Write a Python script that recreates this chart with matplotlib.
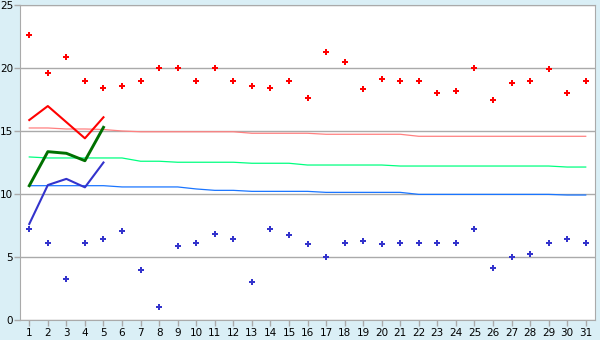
import numpy as np
import matplotlib
matplotlib.use("Agg")
import matplotlib.pyplot as plt

# categories 1..31
cats = list(range(1, 32))

# scatter values
red_pts = [22.6, 19.6, 20.85, 19.0, 18.4, 18.55, 19.0, 20.0, 20.0, 19.0,
           20.0, 19.0, 18.6, 18.4, 19.0, 17.6, 21.25, 20.45, 18.3, 19.1,
           19.0, 19.0, 18.0, 18.2, 20.0, 17.5, 18.8, 19.0, 19.9, 18.0, 19.0]
blue_pts = [7.2, 6.1, 3.25, 6.1, 6.4, 7.05, 3.95, 1.0, 5.85, 6.1,
            6.8, 6.4, 3.0, 7.2, 6.72, 6.0, 5.0, 6.1, 6.25, 6.0,
            6.1, 6.1, 6.1, 6.1, 7.2, 4.1, 5.0, 5.2, 6.1, 6.4, 6.1]

# short lines over the first five categories
red_line = [15.87, 16.98, 15.7, 14.42, 16.09]
green_line = [10.66, 13.36, 13.23, 12.64, 15.29]
blue_line = [7.62, 10.71, 11.2, 10.53, 12.5]

# slowly drifting level lines
upper = [15.24, 15.24, 15.16, 15.16, 15.12, 15.0, 14.94, 14.94, 14.94, 14.94,
         14.94, 14.94, 14.82, 14.82, 14.82, 14.82, 14.74, 14.74, 14.74, 14.74,
         14.74, 14.58, 14.58, 14.58, 14.58, 14.58, 14.58, 14.58, 14.58, 14.58, 14.58]
middle = [12.94, 12.86, 12.86, 12.86, 12.86, 12.86, 12.6, 12.6, 12.52, 12.52,
          12.52, 12.52, 12.44, 12.44, 12.44, 12.30, 12.30, 12.30, 12.30, 12.30,
          12.22, 12.22, 12.22, 12.22, 12.22, 12.22, 12.22, 12.22, 12.22, 12.14, 12.14]
lower = [10.66, 10.66, 10.66, 10.66, 10.66, 10.56, 10.56, 10.56, 10.56, 10.4,
         10.29, 10.29, 10.21, 10.21, 10.21, 10.21, 10.13, 10.13, 10.13, 10.13,
         10.13, 9.97, 9.97, 9.97, 9.97, 9.97, 9.97, 9.97, 9.97, 9.92, 9.92]

fig = plt.figure(figsize=(6, 3.4), dpi=100, facecolor="#daeff6")
ax = fig.add_axes([20 / 600, 20 / 340, 575 / 600, 315 / 340])
ax.set_facecolor("white")

ax.plot(cats, upper, color="#ff8080", lw=0.9, zorder=2)
ax.plot(cats, middle, color="#00ff80", lw=0.9, zorder=2)
ax.plot(cats, lower, color="#1a75ff", lw=0.9, zorder=2)

ax.plot(cats[:5], red_line, color="#ff0000", lw=1.5, zorder=3)
ax.plot(cats[:5], green_line, color="#007000", lw=2.1, zorder=3)
ax.plot(cats[:5], blue_line, color="#3333cc", lw=1.5, zorder=3)

ax.plot(cats, red_pts, ls="none", marker="P", ms=5, color="#ff0000", mew=0, zorder=4)
ax.plot(cats, blue_pts, ls="none", marker="P", ms=5, color="#3333cc", mew=0, zorder=4)

ax.set_xlim(0.5, 31.5)
ax.set_ylim(0, 25)
ax.set_xticks(cats)
ax.set_yticks([0, 5, 10, 15, 20, 25])
ax.yaxis.grid(True, color="#aaaaaa", lw=1)
ax.set_axisbelow(True)
for s in ax.spines.values():
    s.set_color("#aaaaaa")
ax.tick_params(colors="#aaaaaa", labelcolor="black", labelsize=7.5, length=4, width=1)
ax.tick_params(axis="y", pad=1)
ax.tick_params(axis="x", pad=2)

fig.savefig("out.png", dpi=100, facecolor=fig.get_facecolor())
